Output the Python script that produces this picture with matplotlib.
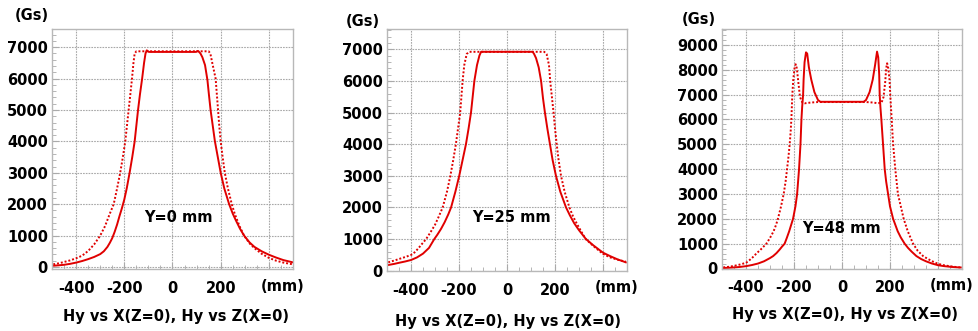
import matplotlib
matplotlib.use("Agg")
import matplotlib.pyplot as plt
from matplotlib.ticker import MultipleLocator, FixedLocator

# ---------------- data ----------------
# Panel 1: Y = 0 mm
p1_hx_x = [-495, -470, -450, -425, -400, -375, -350, -325, -300, -285, -270, -260, -250, -240,
           -230, -220, -210, -200, -190, -178, -167, -157, -150, -143, -135, -126, -118, -112,
           -107, -103, -98, 98, 103, 108, 116, 124, 135, 145, 151, 158, 167, 176, 188, 200,
           215, 235, 250, 262, 280, 297, 320, 340, 370, 400, 430, 460, 498]
p1_hx_y = [40, 55, 70, 100, 140, 190, 250, 320, 410, 500, 640, 770, 920, 1120,
           1350, 1620, 1870, 2150, 2500, 3000, 3500, 4000, 4500, 5000, 5500, 6000, 6500, 6800,
           6900, 6880, 6850, 6850, 6880, 6870, 6800, 6680, 6430, 5950, 5500, 5000, 4500, 4000, 3500, 3000,
           2500, 2000, 1700, 1500, 1220, 1000, 780, 640, 500, 390, 300, 220, 150]
p1_hz_x = [-495, -470, -450, -425, -400, -375, -350, -325, -300, -280, -260, -244, -230, -217,
           -206, -196, -189, -182, -175, -168, -162, -157, -150, 150, 157, 165, 179, 184, 189,
           194, 200, 208, 217, 230, 246, 258, 268, 280, 297, 320, 340, 370, 400, 430, 460, 498]
p1_hz_y = [85, 120, 160, 210, 277, 360, 510, 720, 1000, 1300, 1700, 2000, 2500, 3000,
           3500, 4000, 4500, 5000, 5500, 6000, 6500, 6800, 6870, 6870, 6800, 6500, 6000, 5500, 5000,
           4500, 4000, 3500, 3000, 2500, 2000, 1700, 1500, 1270, 1000, 750, 600, 420, 290, 200, 140, 86]

# Panel 2: Y = 25 mm
p2_hx_x = [-495, -470, -450, -425, -400, -375, -350, -325, -303, -290, -275, -260, -245, -233,
           -215, -199, -185, -171, -160, -150, -143, -136, -125, -115, -108, 107, 113, 121,
           132, 142, 150, 158, 168, 179, 190, 204, 222, 246, 262, 280, 300, 329, 360, 400,
           430, 460, 495]
p2_hx_y = [180, 215, 250, 290, 338, 420, 540, 720, 1000, 1140, 1320, 1530, 1775, 2000,
           2500, 3000, 3500, 4000, 4500, 5000, 5500, 6000, 6500, 6800, 6920, 6920, 6850, 6720,
           6430, 6000, 5450, 5000, 4500, 4000, 3500, 3000, 2500, 2000, 1750, 1500, 1280, 1000, 800, 570,
           460, 360, 265]
p2_hz_x = [-495, -470, -450, -425, -400, -385, -370, -355, -337, -320, -300, -285, -268, -250,
           -236, -224, -213, -204, -195, -190, -185, -178, -168, -157, 155, 165, 175, 180,
           187, 194, 200, 207, 215, 225, 240, 260, 275, 290, 310, 328, 360, 400, 430, 460, 495]
p2_hz_y = [265, 320, 370, 430, 496, 580, 700, 840, 1000, 1200, 1450, 1700, 2000, 2500,
           3000, 3500, 4000, 4500, 5000, 5500, 6000, 6500, 6850, 6920, 6920, 6850, 6500, 6000,
           5500, 5000, 4500, 4000, 3500, 3000, 2500, 2000, 1720, 1500, 1230, 1000, 780, 530, 420, 350, 285]

# Panel 3: Y = 48 mm
p3_hx_x = [-495, -470, -450, -425, -400, -375, -350, -325, -300, -287, -273, -260, -250, -239,
           -230, -220, -212, -204, -194, -187, -183, -179, -176, -173, -171, -169, -166, -162,
           -160, -156, -150, -145, -138, -128, -115, -100, -90, 90, 100, 115, 128, 138, 146,
           151, 155, 157, 160, 164, 171, 178, 184, 192, 200, 213, 232, 245, 261, 275, 290,
           310, 330, 350, 375, 400, 425, 450, 475, 495]
p3_hx_y = [20, 30, 42, 63, 94, 140, 200, 290, 420, 500, 620, 760, 880, 1000,
           1230, 1500, 1750, 2000, 2500, 3000, 3500, 4000, 4500, 5000, 5500, 6000, 6500, 7000,
           7600, 8300, 8700, 8650, 8100, 7600, 7100, 6780, 6710, 6710, 6780, 7100, 7600, 8200, 8730,
           8500, 7800, 7000, 6500, 6000, 5000, 4000, 3500, 3000, 2500, 2000, 1500, 1250, 1000, 830, 680,
           500, 380, 290, 200, 133, 95, 70, 50, 40]
p3_hz_x = [-495, -470, -450, -425, -400, -385, -371, -355, -340, -328, -315, -300, -285, -275,
           -267, -254, -243, -235, -229, -223, -218, -214, -211, -209, -207, -203, -198, -193,
           -188, -182, -175, -165, -155, -130, -100, 100, 130, 150, 165, 173, 180, 184, 188,
           193, 198, 201, 204, 207, 213, 222, 233, 245, 257, 274, 296, 315, 338, 355, 370,
           385, 400, 425, 450, 475, 495]
p3_hz_y = [45, 70, 105, 160, 228, 340, 460, 620, 750, 870, 1000, 1230, 1500, 1750,
           2000, 2500, 3000, 3500, 4000, 4500, 5000, 5500, 6000, 6500, 7000, 7600, 8050, 8220,
           8050, 7500, 6900, 6680, 6650, 6680, 6700, 6700, 6680, 6650, 6680, 6900, 7500, 8050, 8260,
           8050, 7600, 7000, 6500, 6000, 5000, 4000, 3000, 2500, 2000, 1500, 1000, 720, 500, 400, 320,
           250, 188, 130, 90, 60, 40]

x_ticks = [-400, -200, 0, 200, 400]
x_tick_labels = ["-400", "-200", "0", "200", ""]
panel_labels = ["Y=0 mm", "Y=25 mm", "Y=48 mm"]
xlabel_text = "Hy vs X(Z=0), Hy vs Z(X=0)"

panels = [
    dict(hx=(p1_hx_x, p1_hx_y), hz=(p1_hz_x, p1_hz_y), yticks=list(range(0, 7001, 1000)),
         ylim=(-64, 7580), rect=(52, 29, 293, 269), lab_xy=(23, 1583),
         gs=(31.5, 15), title=(176, 317)),
    dict(hx=(p2_hx_x, p2_hx_y), hz=(p2_hz_x, p2_hz_y), yticks=list(range(0, 7001, 1000)),
         ylim=(0, 7641), rect=(387, 29, 627, 270.7), lab_xy=(17, 1688),
         gs=(363, 21), title=(508, 321.5)),
    dict(hx=(p3_hx_x, p3_hx_y), hz=(p3_hz_x, p3_hz_y), yticks=list(range(0, 9001, 1000)),
         ylim=(0, 9640), rect=(722, 29, 962, 268.5), lab_xy=(-2, 1595),
         gs=(699, 20), title=(845, 315)),
]

W, H = 979, 331
fig = plt.figure(figsize=(W / 100, H / 100), dpi=100)
red = "#e00000"
font = dict(family="DejaVu Sans", weight="bold", size=10.5)

for i, p in enumerate(panels):
    l, t, r, b = p["rect"]
    ax = fig.add_axes([l / W, (H - b) / H, (r - l) / W, (b - t) / H])
    ax.plot(*p["hx"], color=red, lw=1.4, ls="-")
    ax.plot(*p["hz"], color=red, lw=1.4, ls=(0, (1, 1)))
    ax.set_xlim(-500, 500)
    ax.set_ylim(*p["ylim"])
    ax.xaxis.set_major_locator(FixedLocator(x_ticks))
    ax.set_xticklabels(x_tick_labels, fontdict=font)
    ax.set_yticks(p["yticks"])
    ax.set_yticklabels([str(v) for v in p["yticks"]], fontdict=font)
    ax.xaxis.set_minor_locator(MultipleLocator(50))
    ax.yaxis.set_minor_locator(MultipleLocator(200))
    ax.tick_params(which="both", direction="in", color="#aaaaaa", top=False, right=False)
    ax.tick_params(which="major", length=4)
    ax.tick_params(which="minor", length=3)
    ax.tick_params(axis="x", which="major", pad=8.5)
    ax.tick_params(axis="y", which="major", pad=3)
    ax.grid(True, which="major", color="#a8a8a8", lw=0.8, ls=(0, (1.5, 1)))
    for s in ax.spines.values():
        s.set_color("#b8b8b8")
        s.set_linewidth(1.0)
    ax.set_axisbelow(True)
    ax.text(p["lab_xy"][0], p["lab_xy"][1], panel_labels[i], ha="center", va="center", **font)
    ax.annotate("(mm)", xy=(455, 0), xycoords=("data", "axes fraction"),
                xytext=(0, -12.3), textcoords="offset points", ha="center", va="center", **font)
    fig.text(p["gs"][0] / W, 1 - p["gs"][1] / H, "(Gs)", ha="center", va="center", **font)
    fig.text(p["title"][0] / W, 1 - p["title"][1] / H, xlabel_text, ha="center", va="center", **font)

fig.savefig("out.png", dpi=100)
